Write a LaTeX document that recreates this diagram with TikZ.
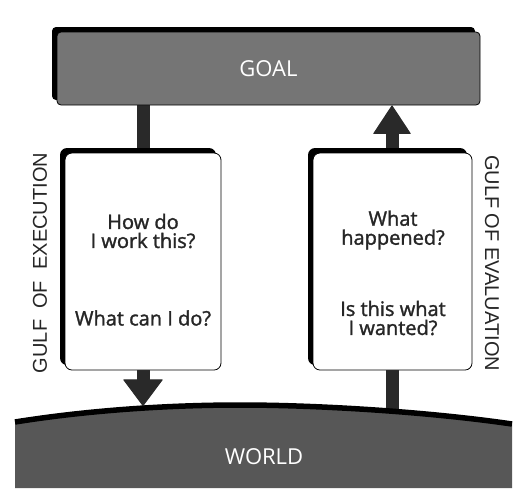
\documentclass[tikz,border=0pt]{standalone}
\usepackage{fontspec}
\setmainfont{Open Sans}
\newfontfamily\askfont{Open Sans}[FakeBold=1.5]
\newfontfamily\gulffont{Liberation Sans}
\usetikzlibrary{arrows.meta, shadows, backgrounds}
\definecolor{goalgray}{gray}{0.46}
\definecolor{worldgray}{gray}{0.34}
\definecolor{shaftgray}{gray}{0.16}

\begin{document}
\begin{tikzpicture}[x=1pt, y=1pt,
  panel/.style={draw, fill=white, rounded corners=7pt, line width=0.8pt, minimum width=156pt, minimum height=217pt, drop shadow={shadow xshift=-5pt, shadow yshift=5pt, fill=black, opacity=1}},
  ask/.style={align=center, font=\askfont\fontsize{20}{19}\selectfont, text=black!85},
  shaft/.style={line width=13pt, shaftgray},
  gulf/.style={font=\gulffont\fontsize{20}{22}\selectfont, text=black!85}]
\useasboundingbox (0,0) rectangle (518,-496);

\fill[worldgray] (15,-422) .. controls (90,-410) and (170,-405) .. (240,-405) .. controls (320,-405) and (430,-412) .. (512,-424) -- (512,-488) -- (15,-488) -- cycle;
\draw[line width=5.5pt] (15,-422) .. controls (90,-410) and (170,-405) .. (240,-405) .. controls (320,-405) and (430,-412) .. (512,-424);
\node[text=white, font=\fontsize{22}{24}\selectfont] (world) at (264,-457) {WORLD};
\coordinate (landexec) at (143,-406);
\coordinate (landeval) at (392,-411);

\node[draw, fill=goalgray, rounded corners=4pt, line width=0.8pt, minimum width=423pt, minimum height=73pt, drop shadow={shadow xshift=-5pt, shadow yshift=5pt, fill=black, opacity=1}, text=white, font=\fontsize{22}{24}\selectfont] (goal) at (268.5,-68.5) {GOAL};

\node[panel] (execbox) at (143,-261.5) {};
\node[panel, minimum width=159pt] (evalbox) at (392.5,-261.5) {};

\node[ask] (howdo) at (143,-231) {How do\\I work this?};
\node[ask] (whatcan) at (143,-318) {What can I do?};
\node[ask] (happened) at (393,-230) {What\\happened?};
\node[ask] (wanted) at (393,-318) {Is this what\\I wanted?};

\node[gulf, rotate=90] (execgulf) at (40,-263) {GULF\ \ OF\ \ EXECUTION};
\node[gulf, rotate=-90] (evalgulf) at (492,-263) {GULF OF EVALUATION};

\begin{scope}[on background layer]
\draw[shaft, -{Triangle[width=40pt, length=27pt, line width=1pt, round]}] (goal.south -| execbox) -- (landexec);
\draw[shaft, -{Triangle[width=38pt, length=29pt, line width=1pt, round]}] (landeval) -- (goal.south -| landeval);
\end{scope}
\end{tikzpicture}
\end{document}
